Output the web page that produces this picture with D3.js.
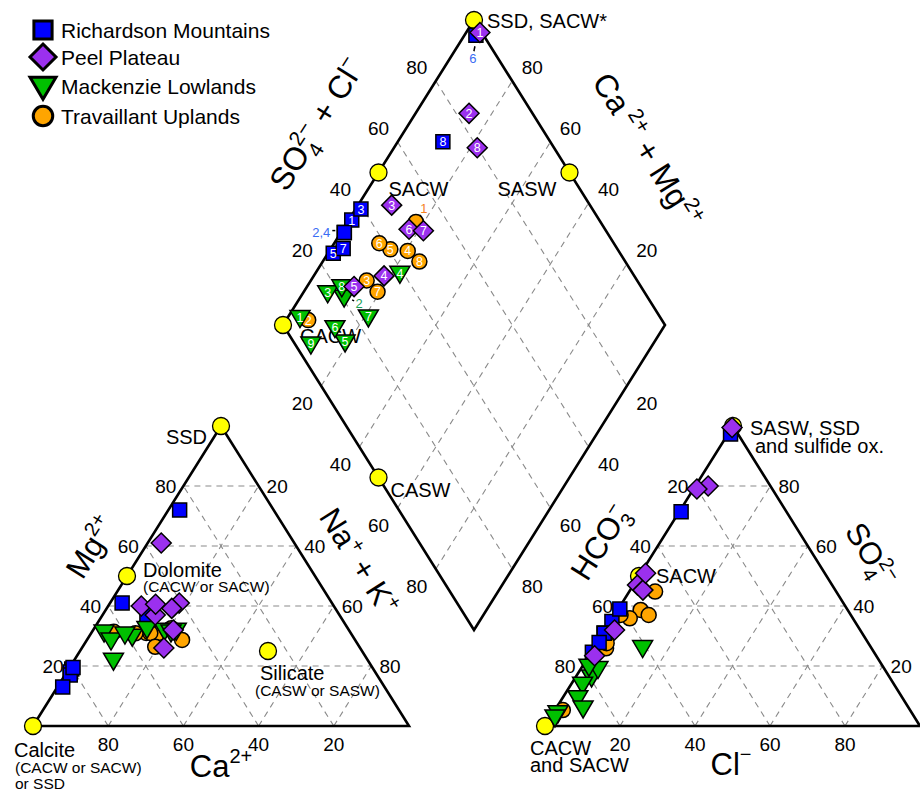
<!DOCTYPE html>
<html>
<head>
<meta charset="utf-8">
<script src="https://cdn.jsdelivr.net/npm/d3@7"></script>
<style>
  body { margin: 0; background: #fff; }
  svg { font-family: "Liberation Sans", Arial, Helvetica, sans-serif; }
</style>
</head>
<body>
<div id="chart"></div>
<script>
// ---- data (percent of meq) ----
var ticks = [20, 40, 60, 80]

var groupNames  = ["Richardson Mountains", "Peel Plateau", "Mackenzie Lowlands", "Travaillant Uplands"]
var groupColors = ["#0000ff", "#9b30ee", "#00c000", "#ffa500"]
var groupShapes = ["square", "diamond", "triangle", "circle"]

var richId  = [1, 2, 3, 4, 5, 6, 7, 8]
var richMg  = [19, 18, 17, 19.5, 13, 72, 41, 37]
var richNaK = [0.8, 0.9, 1.4, 0.9, 1.4, 3, 3.2, 11.8]
var richSO4 = [34.8, 31, 39, 30.9, 24.6, 97.3, 27.8, 71.4]
var richCl  = [0.4, 0.2, 0.4, 0.3, 0.3, 0.7, 0.5, 0.5]

var peelId  = [1, 2, 3, 4, 5, 6, 7, 8]
var peelMg  = [61, 37, 40, 41, 40.6, 39.2, 32, 26]
var peelNaK = [3.6, 14, 8.8, 18.4, 12.3, 17.3, 21.3, 21.8]
var peelSO4 = [99.5, 80, 47, 32, 23.4, 45.3, 50.9, 79]
var peelCl  = [0, 3.4, 1.1, 2.5, 1.5, 3.4, 1.3, 0.9]

var mackId  = [1, 2, 3, 4, 5, 6, 7, 8, 9]
var mackMg  = [31.4, 30, 28.7, 32, 32, 32.6, 31.4, 30.7, 22]
var mackNaK = [3.2, 11.4, 6.4, 22.1, 19, 14, 21, 9.1, 10.4]
var mackSO4 = [4.5, 16.4, 14, 26.2, 9.5, 6.1, 19.2, 20, 3.1]
var mackCl  = [1.2, 4.2, 3, 12.9, 4, 7.1, 4.5, 1.7, 1.1]

var travId  = [1, 2, 3, 4, 5, 6, 7, 8]
var travMg  = [31, 31.4, 31, 32.6, 31, 30.9, 26.4, 28.7]
var travNaK = [17.9, 5.8, 14.6, 20.5, 15.7, 11.8, 19.3, 25.3]
var travSO4 = [44.8, 5.3, 25.9, 38.7, 35.9, 37, 27.6, 37]
var travCl  = [6.9, 2.1, 3.3, 6.1, 4.6, 1.6, 2.6, 9.1]

// samples hidden in the diamond, labelled outside instead
var hiddenLabels = [
  {group: 0, id: 2, text: "2,4", color: "#3a6cf4"},
  {group: 0, id: 6, text: "6",   color: "#3a6cf4"},
  {group: 3, id: 1, text: "1",   color: "#f5821f"},
  {group: 2, id: 2, text: "2",   color: "#1aa156"}
]
var hiddenIds = [[2, 4, 6], [], [2], [1]]

// end-members
var catEndMg   = [100, 50, 0, 25]
var catEndNaK  = [0, 0, 0, 50]
var aniEndSO4  = [100, 50, 0]
var aniEndCl   = [0, 0, 0]
var diaEndNaK  = [0, 0, 50, 0, 50]
var diaEndSCl  = [100, 50, 100, 0, 0]

// ---- layout ----
var W = 920, H = 791
var cat = {a: [33, 726], b: [409, 726], c: [221, 426]}   // Ca, Na+K, Mg
var ani = {a: [545, 726], b: [920, 726], c: [733, 426]}  // HCO3, Cl, SO4
var dia = {l: [283, 325], t: [474, 20], r: [665, 325], b: [474, 630]}

var frac = d3.scaleLinear().domain([0, 100]).range([0, 1])

function tern(tri, p1, p2) {   // p1 -> vertex c, p2 -> vertex b, rest -> vertex a
  var u = frac(p2), v = frac(p1), w = 1 - u - v
  return [tri.a[0]*w + tri.b[0]*u + tri.c[0]*v, tri.a[1]*w + tri.b[1]*u + tri.c[1]*v]
}
function catXY(mg, nak) { return tern(cat, mg, nak) }
function aniXY(so4, cl) { return tern(ani, so4, cl) }
function diaXY(nak, scl) {
  var x = frac(nak), y = frac(scl)
  return [dia.l[0] + x*(dia.b[0]-dia.l[0]) + y*(dia.t[0]-dia.l[0]),
          dia.l[1] + x*(dia.b[1]-dia.l[1]) + y*(dia.t[1]-dia.l[1])]
}

var svg = d3.select("#chart").append("svg")
  .attr("width", W).attr("height", H)
  .style("background-color", "#fff")

var line = d3.line()
var gGrid = svg.append("g")
  .attr("stroke", "#8a8a8a").attr("stroke-width", 1.1)
  .attr("stroke-dasharray", "6,5").attr("fill", "none")

ticks.forEach(function(v){
  // cation grid
  gGrid.append("path").attr("d", line([catXY(v, 0), catXY(v, 100-v)]))
  gGrid.append("path").attr("d", line([catXY(0, v), catXY(100-v, v)]))
  gGrid.append("path").attr("d", line([catXY(0, 100-v), catXY(100-v, 0)]))
  // anion grid
  gGrid.append("path").attr("d", line([aniXY(v, 0), aniXY(v, 100-v)]))
  gGrid.append("path").attr("d", line([aniXY(0, v), aniXY(100-v, v)]))
  gGrid.append("path").attr("d", line([aniXY(0, 100-v), aniXY(100-v, 0)]))
  // diamond grid
  gGrid.append("path").attr("d", line([diaXY(v, 0), diaXY(v, 100)]))
  gGrid.append("path").attr("d", line([diaXY(0, v), diaXY(100, v)]))
})

var gFrame = svg.append("g").attr("stroke", "#000").attr("stroke-width", 2.6)
  .attr("fill", "none").attr("stroke-linejoin", "miter")
gFrame.append("path").attr("d", line([cat.a, cat.b, cat.c]) + "Z")
gFrame.append("path").attr("d", line([ani.a, ani.b, ani.c]) + "Z")
gFrame.append("path").attr("d", line([dia.l, dia.t, dia.r, dia.b]) + "Z")

// ---- tick labels ----
var gTick = svg.append("g").attr("font-size", 19).attr("fill", "#000")
function tick(p, dx, dy, txt, anchor) {
  gTick.append("text").attr("x", p[0] + dx).attr("y", p[1] + dy)
    .attr("text-anchor", anchor || "middle").attr("dominant-baseline", "central").text(txt)
}
ticks.forEach(function(v){
  tick(catXY(0, 100-v), 0, 18, v)
  tick(catXY(v, 0), -7, 0, v, "end")
  tick(catXY(100-v, v), 8, 0, v, "start")
  tick(aniXY(0, v), 0, 18, v)
  tick(aniXY(v, 0), -7, 0, 100-v, "end")
  tick(aniXY(v, 100-v), 8, 0, v, "start")
  tick(diaXY(0, v), -19, -14, v)
  tick(diaXY(100-v, 100), 20, -14, v)
  tick(diaXY(v, 0), -19, 17, v)
  tick(diaXY(100, 100-v), 20, 17, v)
})

// ---- axis titles ----
function rich(x, y, rot, size, parts) {
  var t = svg.append("text").attr("font-size", size).attr("text-anchor", "middle")
    .attr("transform", "translate(" + x + "," + y + ") rotate(" + rot + ")")
  parts.forEach(function(p){
    var s = t.append("tspan").text(p[0])
    if (p[1]) s.attr("font-size", p[1])
    if (p[2]) s.attr("dy", p[2])
    if (p[3]) s.attr("dx", p[3])
  })
}
rich(326, 130, -57.9, 32, [["SO"], ["4", 21, 9], ["2\u2212", 21, -22, -12], [" + Cl", 32, 13], ["\u2212", 21, -13]])
rich(638, 156, 57.9, 32, [["Ca"], [" 2+", 21, -13], [" + Mg", 32, 13], ["2+", 21, -13]])
rich(350, 567, 57.8, 31, [["Na"], ["+", 20, -12], [" + K", 31, 12], ["+", 20, -12]])
rich(100, 553, -57.8, 31, [["Mg"], ["2+", 20, -13]])
rich(221, 777, 0, 31, [["Ca"], ["2+", 20, -14]])
rich(609, 548, -57.8, 31, [["HCO"], ["3", 20, 8], ["\u2212", 20, -20, -10]])
rich(862, 560, 57.8, 31, [["SO"], ["4", 20, 8], ["2\u2212", 20, -20, -11]])
rich(731, 775, 0, 31, [["Cl"], ["\u2212", 20, -14]])

// ---- end-members ----
var endPts = []
catEndMg.forEach(function(m, i){ endPts.push(catXY(m, catEndNaK[i])) })
aniEndSO4.forEach(function(s, i){ endPts.push(aniXY(s, aniEndCl[i])) })
diaEndNaK.forEach(function(n, i){ endPts.push(diaXY(n, diaEndSCl[i])) })

svg.append("g").selectAll("circle").data(endPts).enter().append("circle")
  .attr("cx", function(d){ return d[0] }).attr("cy", function(d){ return d[1] })
  .attr("r", 8.5).attr("fill", "#ffff00").attr("stroke", "#000").attr("stroke-width", 1.3)

// labels: [end-member index, dx, dy, text, size, anchor]
var endLabels = [
  [0, -14, 18, "SSD", 20, "end"],
  [1, 16, 1, "Dolomite", 20], [1, 16, 16, "(CACW or SACW)", 15.5],
  [2, -19, 31, "Calcite", 20], [2, -18, 47, "(CACW or SACW)", 15.5], [2, -18, 63, "or SSD", 15.5],
  [3, -8, 29, "Silicate", 20], [3, -13, 45, "(CASW or SASW)", 15.5],
  [4, 17, 9, "SASW, SSD", 20], [4, 22, 27, "and sulfide ox.", 20],
  [5, 17, 7, "SACW", 20],
  [6, -15, 29, "CACW", 20], [6, -15, 46, "and SACW", 20],
  [7, 13, 8, "SSD, SACW*", 20],
  [8, 10, 23, "SACW", 20],
  [9, -72, 23, "SASW", 20],
  [10, 17, 18, "CACW", 20],
  [11, 12, 19, "CASW", 20]
]
svg.append("g").selectAll("text").data(endLabels).enter().append("text")
  .attr("x", function(d){ return endPts[d[0]][0] + d[1] })
  .attr("y", function(d){ return endPts[d[0]][1] + d[2] })
  .attr("font-size", function(d){ return d[4] })
  .attr("text-anchor", function(d){ return d[5] || "start" })
  .text(function(d){ return d[3] })

// ---- markers ----
function shapePath(shape, big) {
  var k = big ? 1.3 : 1
  if (shape == "square") { var s = 14*k; return "M" + (-s/2) + "," + (-s/2) + "h" + s + "v" + s + "h" + (-s) + "Z" }
  if (shape == "diamond") { var r = 10*k; return "M0," + (-r) + "L" + r + ",0L0," + r + "L" + (-r) + ",0Z" }
  if (shape == "triangle") { var w = 20*k, h = 17*k; return "M" + (-w/2) + "," + (-0.4*h) + "L" + (w/2) + "," + (-0.4*h) + "L0," + (0.6*h) + "Z" }
  var c = 7.5*k
  return "M" + c + ",0A" + c + "," + c + " 0 1 1 " + (-c) + ",0A" + c + "," + c + " 0 1 1 " + c + ",0Z"
}

var groups = [
  {ids: richId, mg: richMg, nak: richNaK, so4: richSO4, cl: richCl},
  {ids: peelId, mg: peelMg, nak: peelNaK, so4: peelSO4, cl: peelCl},
  {ids: mackId, mg: mackMg, nak: mackNaK, so4: mackSO4, cl: mackCl},
  {ids: travId, mg: travMg, nak: travNaK, so4: travSO4, cl: travCl}
]
var drawOrder = [3, 0, 2, 1]

var gPts = svg.append("g")
drawOrder.forEach(function(gi){
  var g = groups[gi]
  var rows = g.ids.map(function(id, i){
    return {id: id, cat: catXY(g.mg[i], g.nak[i]), ani: aniXY(g.so4[i], g.cl[i]),
            dia: diaXY(g.nak[i], g.so4[i] + g.cl[i])}
  })
  ;["cat", "ani", "dia"].forEach(function(key){
    var sel = gPts.append("g").attr("class", groupShapes[gi] + "__" + key)
    sel.selectAll("path").data(rows).enter().append("path")
      .attr("d", shapePath(groupShapes[gi]))
      .attr("transform", function(d){ return "translate(" + d[key][0] + "," + d[key][1] + ")" })
      .attr("fill", groupColors[gi]).attr("stroke", "#000").attr("stroke-width", 1.5)
      .attr("stroke-linejoin", "miter")
  })
  gPts.append("g").selectAll("text")
    .data(rows.filter(function(d){ return hiddenIds[gi].indexOf(d.id) < 0 })).enter()
    .append("text")
    .attr("x", function(d){ return d.dia[0] }).attr("y", function(d){ return d.dia[1] + 0.5 })
    .attr("text-anchor", "middle").attr("dominant-baseline", "central")
    .attr("font-size", 12.5).attr("fill", "#fff")
    .text(function(d){ return d.id })
})

// outside labels with little leaders: [dx, dy text, leader x1,y1,x2,y2, anchor]
var hiddenPos = [[-14, 0, -12, -2, -9, -2, "end"], [-3, 23, -1, 11, -2, 16, "middle"],
                 [8, -13, 4, -6, 5, -7, "middle"], [15, 7, 8, 3, 10, 4, "middle"]]
hiddenLabels.forEach(function(h, i){
  var g = groups[h.group], k = g.ids.indexOf(h.id)
  var p = diaXY(g.nak[k], g.so4[k] + g.cl[k]), o = hiddenPos[i]
  svg.append("line").attr("x1", p[0] + o[2]).attr("y1", p[1] + o[3])
    .attr("x2", p[0] + o[4]).attr("y2", p[1] + o[5]).attr("stroke", "#000").attr("stroke-width", 1.5)
  svg.append("text").attr("x", p[0] + o[0]).attr("y", p[1] + o[1])
    .attr("text-anchor", o[6]).attr("dominant-baseline", "central")
    .attr("font-size", 13).attr("fill", h.color).text(h.text)
})

// ---- legend ----
var legendY = [30, 57, 86, 116]
var leg = svg.append("g")
groupNames.forEach(function(n, i){
  leg.append("path").attr("d", shapePath(groupShapes[i], true))
    .attr("transform", "translate(43," + legendY[i] + ")")
    .attr("fill", groupColors[i]).attr("stroke", "#000").attr("stroke-width", 3)
  leg.append("text").attr("x", 61).attr("y", legendY[i]).attr("dominant-baseline", "central")
    .attr("font-size", 21).text(n)
})
</script>
</body>
</html>
